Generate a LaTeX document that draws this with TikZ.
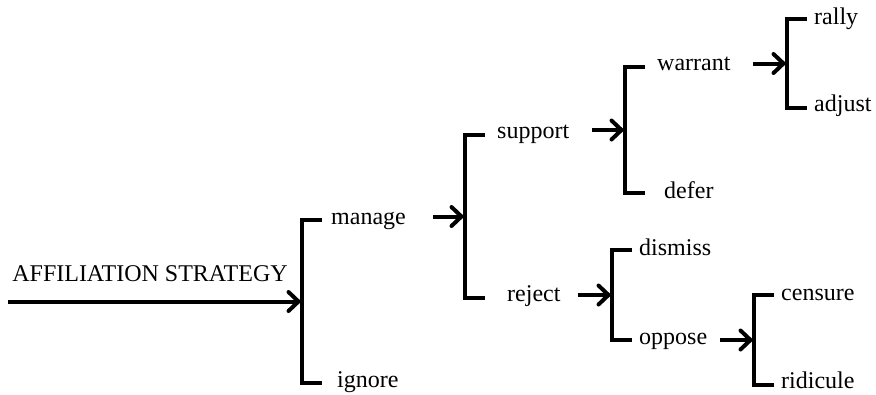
\documentclass[tikz,border=0pt]{standalone}
\usepackage{fontspec}
\setmainfont{Liberation Serif}
\usetikzlibrary{arrows.meta}

\begin{document}
\begin{tikzpicture}[
		x=1pt, y=-1pt,
		font=\fontsize{24}{28}\selectfont,
		lbl/.style={anchor=west, inner sep=0pt, text height=1ex, text depth=0pt, yshift=-3.5pt},
		bracket/.style={line width=3.5pt},
		arr/.style={line width=4pt, -{Straight Barb[length=10pt,width=19pt,round]}, shorten >=1.5pt}
	]
	\useasboundingbox (0,0) rectangle (876,394);
	% brackets: name/x/top/bottom
	\foreach \n/\x/\t/\b in {b1/302/220/383, b2/465/135/298, b3/625/67/193,
			b4/787/19/108, b5/612/250/340, b6/754/295/385}{
			\coordinate (\n) at (\x,{(\t+\b)/2});
			\draw[bracket] (\x+20,\t) -| (\n) |- (\x+20,\b);
		}
	% root
	\node[anchor=base] (title) at (150,281) {AFFILIATION STRATEGY};
	\coordinate (start) at (8,301.5);
	\draw[arr] (start) -- (b1);
	% labels
	\node[lbl] (manage) at (331,219) {manage};
	\node[lbl] (ignore) at (337,382) {ignore};
	\node[lbl] (support) at (497,133) {support};
	\node[lbl] (reject) at (507,296) {reject};
	\node[lbl] (warrant) at (657,65) {warrant};
	\node[lbl] (defer) at (664,193) {defer};
	\node[lbl] (rally) at (814,19) {rally};
	\node[lbl] (adjust) at (814,106) {adjust};
	\node[lbl] (dismiss) at (639,250) {dismiss};
	\node[lbl] (oppose) at (639,339) {oppose};
	\node[lbl] (censure) at (781,295) {censure};
	\node[lbl] (ridicule) at (781,383) {ridicule};
	% arrows between levels
	\coordinate (s2) at (433,216.5);
	\coordinate (s3) at (592,130);
	\coordinate (s4) at (753,63.5);
	\coordinate (s5) at (578,295);
	\coordinate (s6) at (720,340);
	\foreach \s/\b in {s2/b2, s3/b3, s4/b4, s5/b5, s6/b6}
	\draw[arr] (\s) -- (\b);
\end{tikzpicture}
\end{document}
